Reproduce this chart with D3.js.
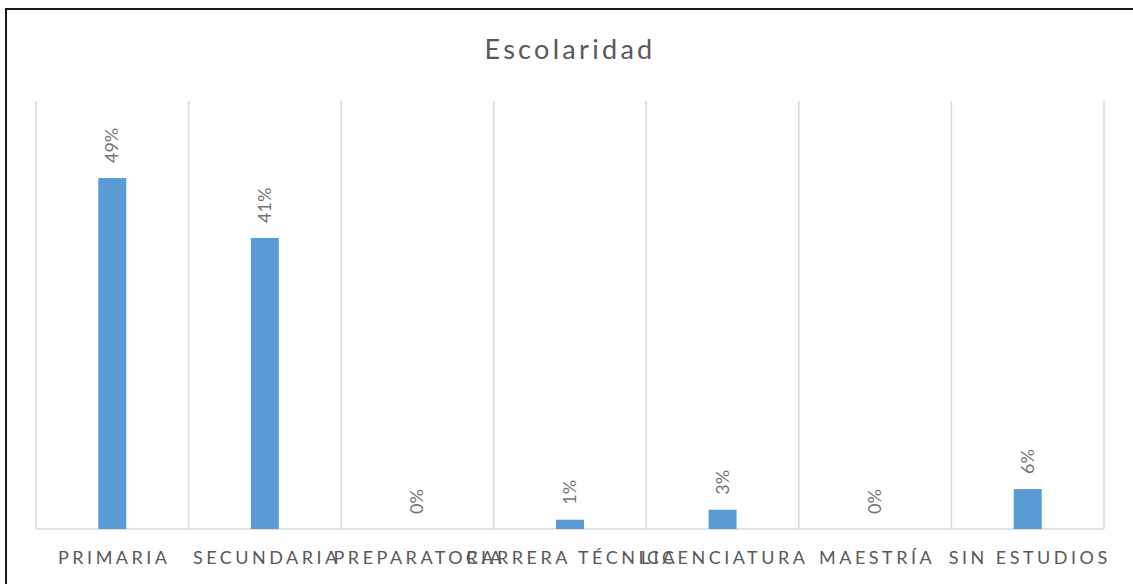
<!DOCTYPE html>
<html>
<head>
<meta charset="utf-8">
<script src="https://cdn.jsdelivr.net/npm/d3@7"></script>
<style>
    body { margin: 0; background: #fff; }
    svg { display: block; }
    text { font-family: Lato, "Open Sans", sans-serif; fill: #595959; }
</style>
</head>
<body>
<svg id="chart" width="1133" height="584"></svg>
<script>
const categories = ["PRIMARIA", "SECUNDARIA", "PREPARATORIA", "CARRERA TÉCNICA", "LICENCIATURA", "MAESTRÍA", "SIN ESTUDIOS"];
const shares = [0.492, 0.408, 0, 0.013, 0.027, 0, 0.056];
const title = "Escolaridad";

const width = 1133;
const height = 584;
const leftX = 36;
const rightX = 1104;
const upperY = 101;
const lowerY = 529;
const BAR_WIDTH = 28;

const svg = d3.select("#chart");

const translate = (x, y) => "translate(" + x + "," + y + ")";

// outer frame, only top and left edges fall inside the picture
svg.append("rect")
    .attr("x", 6)
    .attr("y", 9)
    .attr("width", width + 20)
    .attr("height", height + 20)
    .attr("fill", "none")
    .attr("stroke", "#1a1a1a")
    .attr("stroke-width", 2);

svg.append("text")
    .attr("x", 570)
    .attr("y", 59)
    .attr("text-anchor", "middle")
    .style("font-size", "27px")
    .style("letter-spacing", "3.3px")
    .text(title);

const x = d3.scaleBand().domain(categories).range([leftX, rightX]).padding(0);
const y = d3.scaleLinear().domain([0, 0.6]).range([lowerY, upperY]);

const data = categories.map((c, i) => ({cat: c, value: shares[i]}));

const gridG = svg.append("g").attr("class", "grid");
const bounds = categories.map(c => x(c)).concat([x(categories[categories.length - 1]) + x.bandwidth()]);
gridG.selectAll("line.v").data(bounds).enter()
    .append("line")
    .attr("class", "v")
    .attr("x1", d => d)
    .attr("x2", d => d)
    .attr("y1", y(0.6))
    .attr("y2", y(0))
    .attr("stroke", "#d9d9d9")
    .attr("stroke-width", 1.5);

gridG.append("line")
    .attr("x1", leftX)
    .attr("x2", rightX)
    .attr("y1", y(0))
    .attr("y2", y(0))
    .attr("stroke", "#d9d9d9")
    .attr("stroke-width", 1.5);

const plotG = svg.append("g").attr("class", "bars");
plotG.selectAll("rect.bar").data(data).enter()
    .append("rect")
    .attr("class", "bar")
    .attr("x", d => x(d.cat) + x.bandwidth() / 2 - BAR_WIDTH / 2)
    .attr("y", d => y(d.value))
    .attr("width", BAR_WIDTH)
    .attr("height", d => y(0) - y(d.value))
    .attr("fill", "#5b9bd5");

plotG.selectAll("text.value").data(data).enter()
    .append("text")
    .attr("class", "value")
    .attr("transform", d => translate(x(d.cat) + x.bandwidth() / 2 + 6, y(d.value) - 15) + " rotate(-90)")
    .attr("text-anchor", "start")
    .style("font-size", "18px")
    .style("fill", "#747474")
    .text(d => Math.round(d.value * 100) + "%");

const axisG = svg.append("g").attr("class", "xaxis");
axisG.selectAll("text.cat").data(categories).enter()
    .append("text")
    .attr("class", "cat")
    .attr("x", d => x(d) + x.bandwidth() / 2 + 2)
    .attr("y", 564)
    .attr("text-anchor", "middle")
    .style("font-size", "18px")
    .style("letter-spacing", "3.5px")
    .text(d => d);
</script>
</body>
</html>
